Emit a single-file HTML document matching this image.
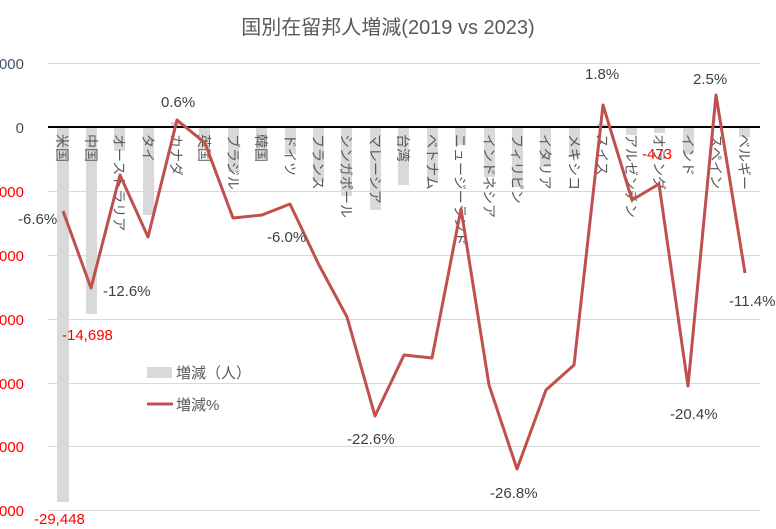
<!DOCTYPE html>
<html><head><meta charset="utf-8"><style>
body{margin:0;background:#fff;}
svg{display:block;font-family:"Liberation Sans","Noto Sans CJK JP",sans-serif;}
</style></head><body>
<svg width="776" height="529" viewBox="0 0 776 529" xmlns="http://www.w3.org/2000/svg">
<rect width="776" height="529" fill="#fff"/>
<text x="388" y="34" text-anchor="middle" font-size="20" fill="#595959">国別在留邦人増減(2019 vs 2023)</text>
<g stroke="#d9d9d9" stroke-width="1">
<line x1="48" y1="63.5" x2="760" y2="63.5"/>
<line x1="48" y1="191.5" x2="760" y2="191.5"/>
<line x1="48" y1="255.5" x2="760" y2="255.5"/>
<line x1="48" y1="319.5" x2="760" y2="319.5"/>
<line x1="48" y1="383.5" x2="760" y2="383.5"/>
<line x1="48" y1="446.5" x2="760" y2="446.5"/>
<line x1="48" y1="510.5" x2="760" y2="510.5"/>
</g>
<g font-size="15" text-anchor="end">
<text x="24" y="69" fill="#44546a">5,000</text>
<text x="24" y="133" fill="#44546a">0</text>
<text x="24" y="197" fill="#ff0000">-5,000</text>
<text x="24" y="261" fill="#ff0000">-10,000</text>
<text x="24" y="325" fill="#ff0000">-15,000</text>
<text x="24" y="389" fill="#ff0000">-20,000</text>
<text x="24" y="452" fill="#ff0000">-25,000</text>
<text x="24" y="516" fill="#ff0000">-30,000</text>
</g>
<g fill="#d9d9d9">
<rect x="57" y="127" width="12" height="375"/>
<rect x="86" y="127" width="11" height="187"/>
<rect x="114" y="127" width="11" height="24"/>
<rect x="143" y="127" width="11" height="88"/>
<rect x="171" y="122" width="11" height="5"/>
<rect x="199" y="127" width="11" height="22"/>
<rect x="228" y="127" width="11" height="45"/>
<rect x="256" y="127" width="11" height="32"/>
<rect x="285" y="127" width="11" height="27"/>
<rect x="313" y="127" width="11" height="55"/>
<rect x="341" y="127" width="11" height="69"/>
<rect x="370" y="127" width="11" height="83"/>
<rect x="398" y="127" width="11" height="58"/>
<rect x="427" y="127" width="11" height="54"/>
<rect x="455" y="127" width="11" height="18"/>
<rect x="484" y="127" width="11" height="50"/>
<rect x="512" y="127" width="11" height="60"/>
<rect x="540" y="127" width="11" height="40"/>
<rect x="569" y="127" width="11" height="30"/>
<rect x="597" y="124" width="11" height="3"/>
<rect x="626" y="127" width="11" height="8"/>
<rect x="654" y="127" width="11" height="6"/>
<rect x="683" y="127" width="11" height="27"/>
<rect x="711" y="125" width="11" height="2"/>
<rect x="739" y="127" width="11" height="10"/>
</g>
<line x1="48" y1="127" x2="760" y2="127" stroke="#000" stroke-width="2"/>
<g font-size="14" fill="#595959">
<text transform="translate(57,134) rotate(90)">米国</text>
<text transform="translate(86,134) rotate(90)">中国</text>
<text transform="translate(114,134) rotate(90)">オーストラリア</text>
<text transform="translate(143,134) rotate(90)">タイ</text>
<text transform="translate(171,134) rotate(90)">カナダ</text>
<text transform="translate(199,134) rotate(90)">英国</text>
<text transform="translate(228,134) rotate(90)">ブラジル</text>
<text transform="translate(256,134) rotate(90)">韓国</text>
<text transform="translate(285,134) rotate(90)">ドイツ</text>
<text transform="translate(313,134) rotate(90)">フランス</text>
<text transform="translate(341,134) rotate(90)">シンガポール</text>
<text transform="translate(370,134) rotate(90)">マレーシア</text>
<text transform="translate(398,134) rotate(90)">台湾</text>
<text transform="translate(427,134) rotate(90)">ベトナム</text>
<text transform="translate(455,134) rotate(90)">ニュージーランド</text>
<text transform="translate(484,134) rotate(90)">インドネシア</text>
<text transform="translate(512,134) rotate(90)">フィリピン</text>
<text transform="translate(540,134) rotate(90)">イタリア</text>
<text transform="translate(569,134) rotate(90)">メキシコ</text>
<text transform="translate(597,134) rotate(90)">スイス</text>
<text transform="translate(626,134) rotate(90)">アルゼンチン</text>
<text transform="translate(654,134) rotate(90)">オランダ</text>
<text transform="translate(683,134) rotate(90)">インド</text>
<text transform="translate(711,134) rotate(90)">スペイン</text>
<text transform="translate(739,134) rotate(90)">ベルギー</text>
</g>
<polyline fill="none" stroke="#c0504d" stroke-width="3" stroke-linejoin="round" points="63,211 91,288 120,175 148,237 177,120 205,143 233,218 262,215 290,204 319,265 347,317 375,416 404,355 432,358 461,209 489,385 517,469 546,390 574,365 603,105 632,200 659,184 688,386 716,95 745,273"/>
<g font-size="15" fill="#404040">
<text x="18" y="224">-6.6%</text>
<text x="103" y="296">-12.6%</text>
<text x="161" y="107">0.6%</text>
<text x="267" y="242">-6.0%</text>
<text x="347" y="444">-22.6%</text>
<text x="490" y="498">-26.8%</text>
<text x="585" y="79">1.8%</text>
<text x="693" y="84">2.5%</text>
<text x="670" y="419">-20.4%</text>
<text x="729" y="306">-11.4%</text>
</g>
<g font-size="15" fill="#ff0000">
<text x="62" y="340">-14,698</text>
<text x="34" y="524">-29,448</text>
<text x="642" y="159">-473</text>
</g>
<rect x="147" y="367" width="25" height="11" fill="#d9d9d9"/>
<text x="176" y="378" font-size="15" fill="#595959">増減（人）</text>
<line x1="147" y1="404" x2="173" y2="404" stroke="#c0504d" stroke-width="3"/>
<text x="176" y="410" font-size="15" fill="#595959">増減%</text>
</svg>
</body></html>
